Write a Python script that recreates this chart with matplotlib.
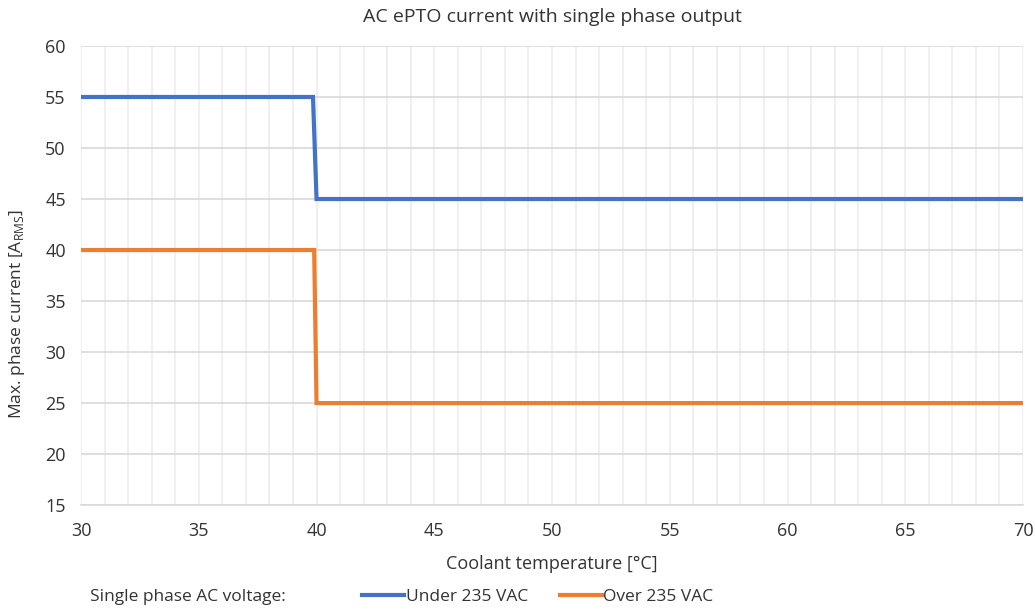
import matplotlib
matplotlib.use('Agg')
from matplotlib import pyplot as plt
from matplotlib.ticker import MultipleLocator

# Data
temp_under = [30, 39.85, 40, 70]
current_under = [55, 55, 45, 45]
temp_over = [30, 39.9, 40, 70]
current_over = [40, 40, 25, 25]
series_labels = ['Under 235 VAC', 'Over 235 VAC']
series_colors = ['#4472C4', '#ED7D31']

plt.rcParams['font.family'] = ['Open Sans', 'DejaVu Sans']
plt.rcParams['mathtext.fontset'] = 'custom'
plt.rcParams['mathtext.rm'] = 'Open Sans'

txt = '#333333'
fig = plt.figure(figsize=(10.35, 6.13), dpi=100)
ax = fig.add_axes([0.0783, 0.176, 0.9101, 0.749])

ax.plot(temp_under, current_under, color=series_colors[0], lw=3, label=series_labels[0],
        solid_joinstyle='miter')
ax.plot(temp_over, current_over, color=series_colors[1], lw=3, label=series_labels[1],
        solid_joinstyle='miter')

ax.set_xlim(30, 70)
ax.set_ylim(15, 60)
ax.xaxis.set_major_locator(MultipleLocator(5))
ax.xaxis.set_minor_locator(MultipleLocator(1))
ax.yaxis.set_major_locator(MultipleLocator(5))

ax.grid(which='major', axis='y', color='#D9D9D9', lw=1.2)
ax.grid(which='both', axis='x', color='#EDEDED', lw=1.2)
ax.set_axisbelow(True)

for s in ['top', 'right', 'left']:
    ax.spines[s].set_visible(False)
ax.spines['bottom'].set_color('#D9D9D9')
ax.spines['bottom'].set_linewidth(1.2)

ax.tick_params(which='both', length=0, labelsize=13, colors=txt)
ax.tick_params(axis='x', pad=12)
ax.tick_params(axis='y', pad=11)

ax.set_title('AC ePTO current with single phase output', fontsize=14, color=txt, pad=17)
ax.set_xlabel('Coolant temperature [°C]', fontsize=13, color=txt, labelpad=11)
ax.set_ylabel(r'Max. phase current [A$_{\mathrm{RMS}}$]', fontsize=12.5, color=txt)
# Excel places this label a bit below the middle of the axis
ax.yaxis.set_label_coords(-0.057, 0.416)

fig.text(0.087, 0.026, 'Single phase AC voltage:', fontsize=12.5, color=txt, va='center')
fig.legend(loc='center left', bbox_to_anchor=(0.35, 0.026), ncol=2, frameon=False,
           fontsize=12.5, handlelength=2.4, handletextpad=0.1, columnspacing=1.85,
           labelcolor=txt, borderaxespad=0, borderpad=0)

plt.savefig('out.png', dpi=100)
